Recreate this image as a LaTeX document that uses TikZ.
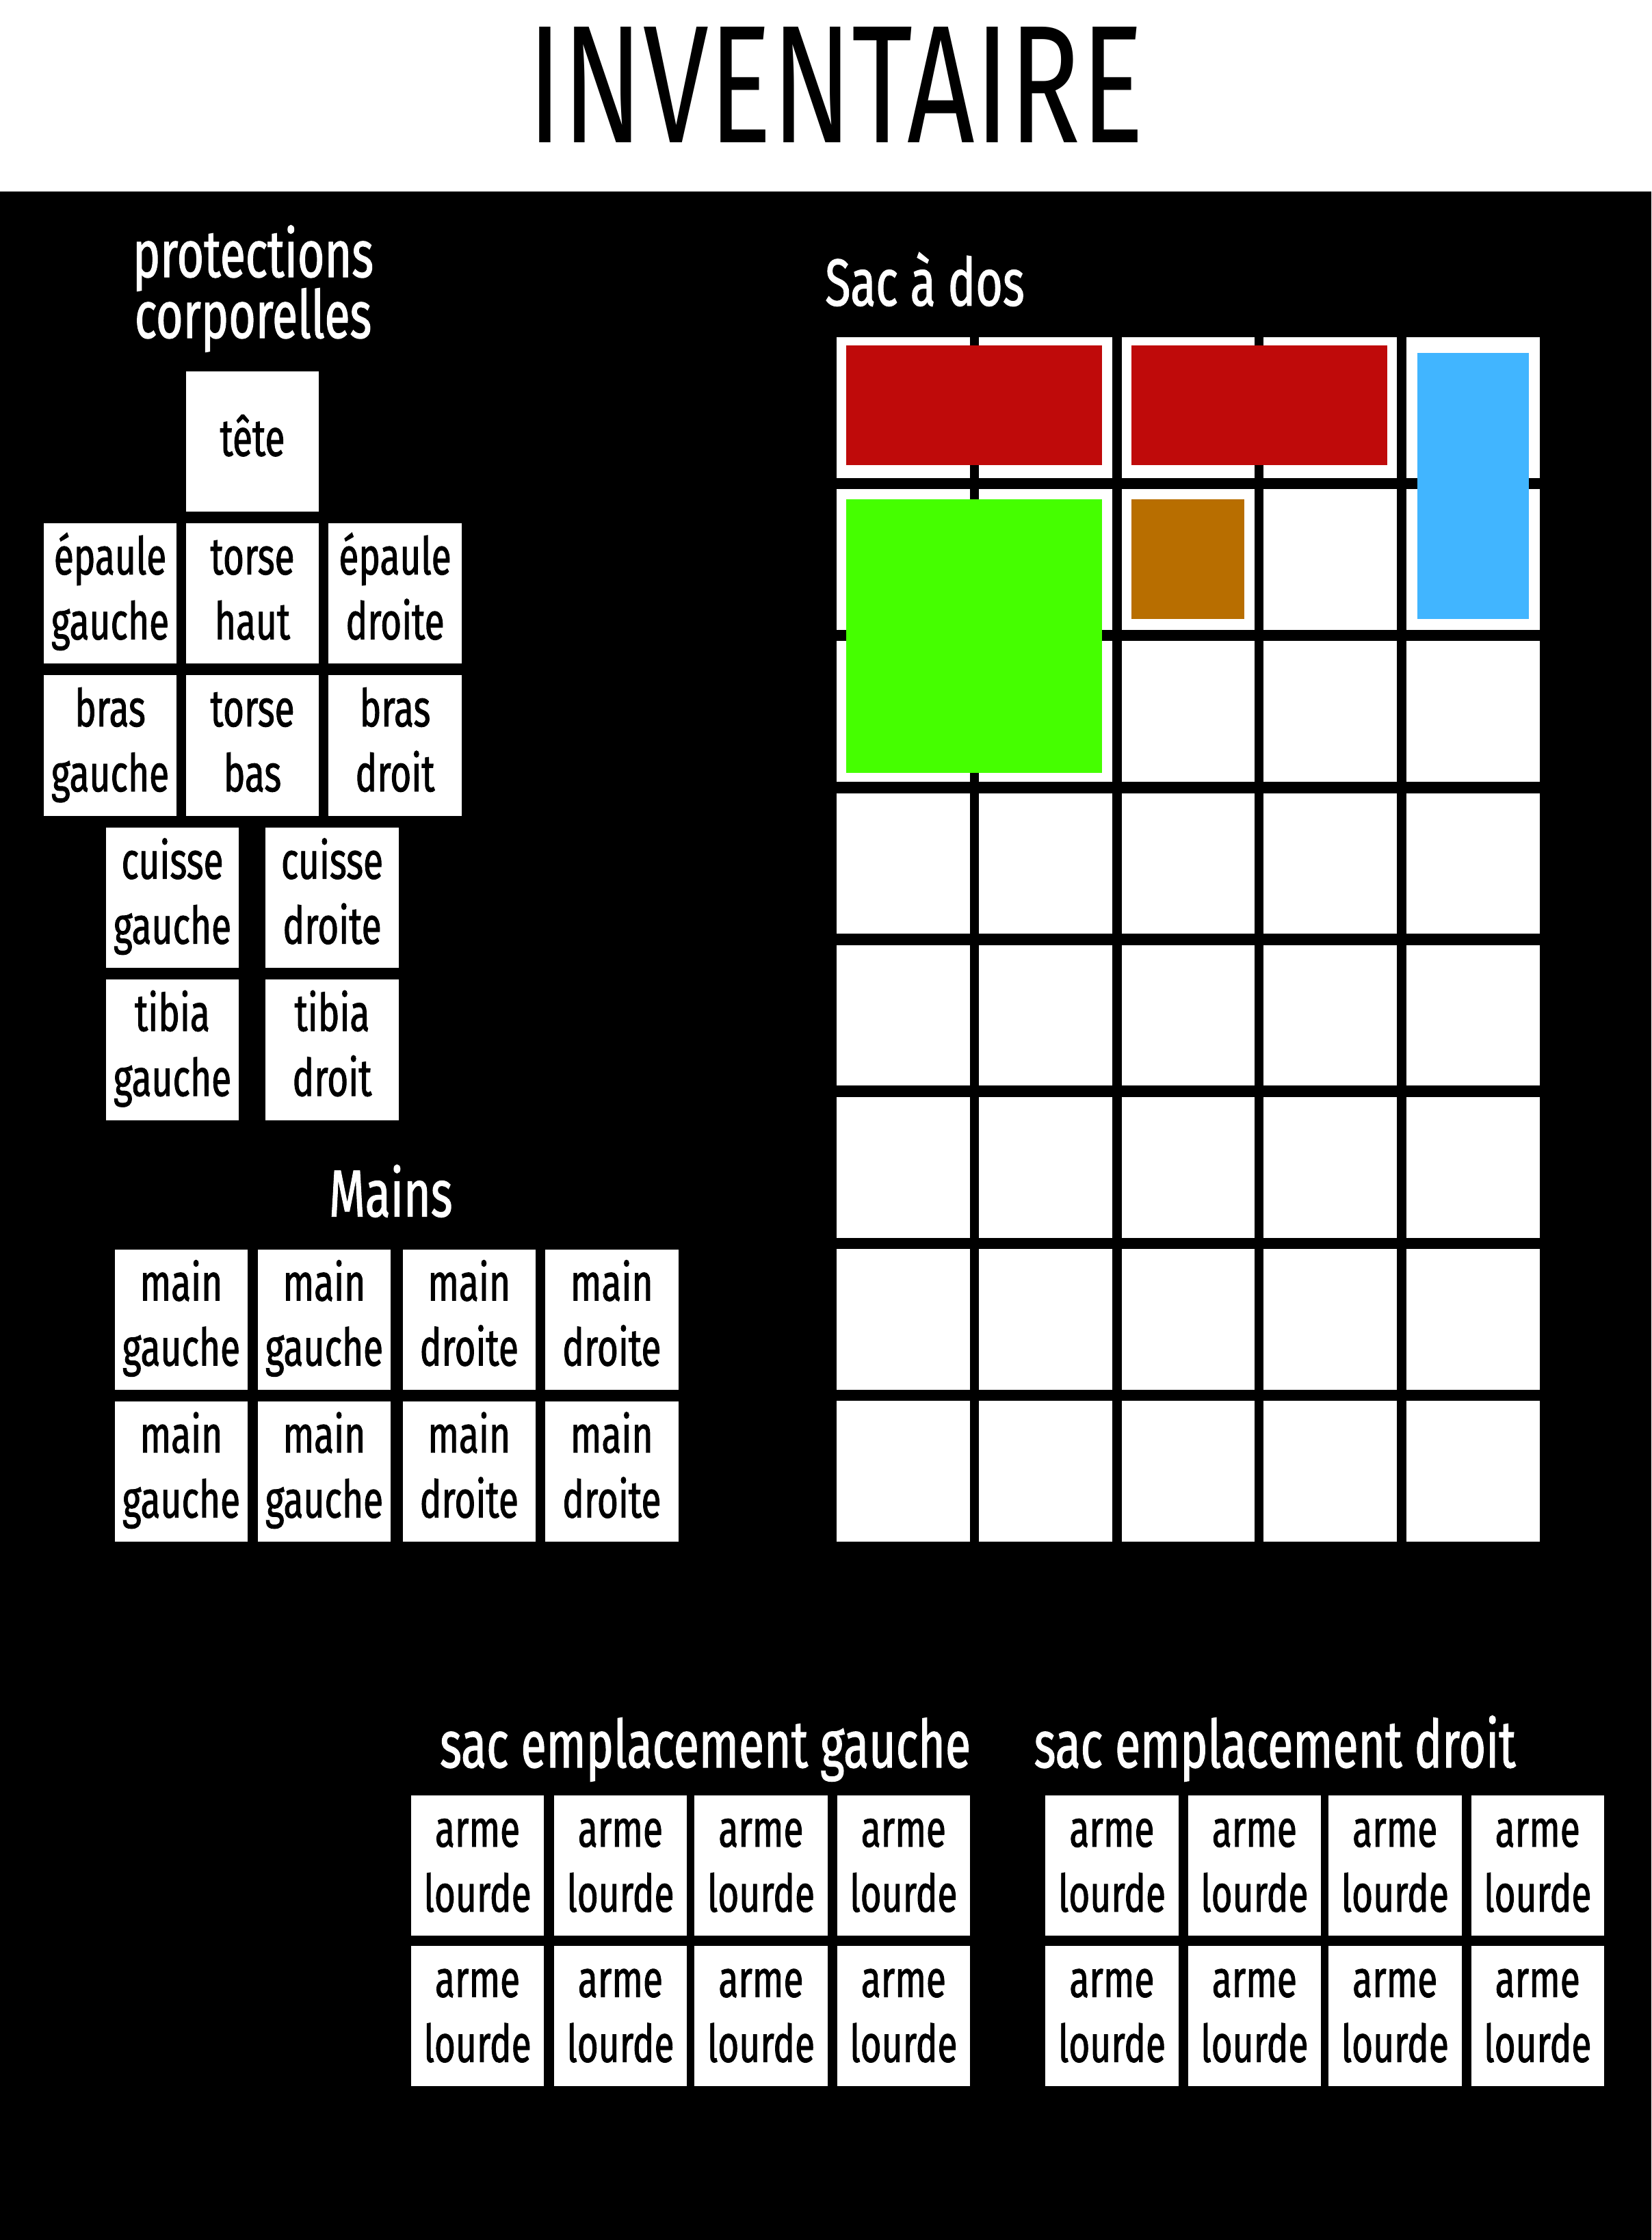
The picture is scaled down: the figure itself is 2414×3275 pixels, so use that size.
\documentclass[tikz,border=0pt]{standalone}
\usepackage{graphicx}
\usepackage{fontspec}
\setmainfont{Fira Sans}[FakeStretch=0.70, FakeBold=1.2]
\newfontfamily\titlefont{Fira Sans}[FakeStretch=0.70]
\definecolor{itemred}{HTML}{BF0A0A}
\definecolor{itemgreen}{HTML}{45FF00}
\definecolor{itemblue}{HTML}{41B5FF}
\definecolor{itembrown}{HTML}{B86E00}
\newcommand\tightlines{\lineskiplimit=-1000pt\relax}
\tikzset{
  slot/.style={fill=white, draw=none, minimum width=194.5pt, minimum height=205.5pt,
    inner sep=0pt, align=center, text=black, font=\fontsize{76}{95}\selectfont\tightlines,
    text height=144.5pt, text depth=10pt},
  slotone/.style={slot, text height=52pt, text depth=10pt},
  heading/.style={text=white, inner sep=0pt, font=\fontsize{97}{89}\selectfont\tightlines},
  item/.style={inner sep=0pt, draw=none},
}
\begin{document}
\begin{tikzpicture}[x=1pt,y=-1pt]
\useasboundingbox (0,0) rectangle (2414,3275);
\fill[white] (0,0) rectangle (2414,280);
\fill[black] (0,280) rectangle (2414,3275);

% title
\node[inner sep=0pt, anchor=base, text=black] (title) at (1222,209)
  {\resizebox{900pt}{169pt}{\titlefont\fontsize{100}{100}\selectfont INVENTAIRE}};

% protections corporelles
\node[heading, align=center, anchor=base] (hprot) at (370,494)
  {protections\\corporelles};
\node[slotone] (tete) at (369,645.5) {tête};
\node[slot] (epg) at (161,867.5) {épaule\\gauche};
\node[slot] (torh) at (369,867.5) {torse\\haut};
\node[slot] (epd) at (577.5,867.5) {épaule\\droite};
\node[slot] (brg) at (161,1089.75) {bras\\gauche};
\node[slot] (torb) at (369,1089.75) {torse\\bas};
\node[slot] (brd) at (577.5,1089.75) {bras\\droit};
\node[slot] (cug) at (252,1312.5) {cuisse\\gauche};
\node[slot] (cud) at (485.5,1312.5) {cuisse\\droite};
\node[slot] (tig) at (252,1535) {tibia\\gauche};
\node[slot] (tid) at (485.5,1535) {tibia\\droit};

% Mains
\node[heading, anchor=base] (hmains) at (571.3,1778.6) {Mains};
\foreach \c/\t [count=\i] in {167.7/gauche,376.7/gauche,588.5/droite,797/droite}
  \foreach \r [count=\j] in {1826.5,2048.7}
    \node[slot] (main-\i-\j) at ({\c+97.25},{\r+102.75}) {main\\\t};

% Sac a dos
\node[heading, anchor=base] (hsac) at (1352,446.7) {Sac à dos};
\foreach \c [count=\i] in {1223,1431,1639.5,1847,2056}
  \foreach \r in {0,...,7}
    \node[slotone] (bp-\i-\r) at ({\c+97.25},{595.75+222.2*\r}) {};
\node[item, fill=itemred, minimum width=374.4pt, minimum height=175pt] (red1) at (1424.2,592.9) {};
\node[item, fill=itemred, minimum width=374.5pt, minimum height=175pt] (red2) at (1840.75,592.9) {};
\node[item, fill=itemblue, minimum width=163pt, minimum height=389.8pt] (blue) at (2153.5,710.5) {};
\node[item, fill=itemgreen, minimum width=374pt, minimum height=400pt] (green) at (1424,930) {};
\node[item, fill=itembrown, minimum width=165.5pt, minimum height=175.4pt] (brown) at (1736.25,817.7) {};

% sac emplacement gauche / droit
\node[heading, anchor=base] (hsg) at (1031,2584) {sac emplacement gauche};
\node[heading, anchor=base] (hsd) at (1863.7,2584) {sac emplacement droit};
\foreach \c [count=\i] in {600.8,809.7,1015.2,1223.6}
  \foreach \r [count=\j] in {2625,2844.7}
    \node[slot] (sg-\i-\j) at ({\c+97.25},{\r+102.65}) {arme\\lourde};
\foreach \c [count=\i] in {1528.2,1736.6,1942,2150.5}
  \foreach \r [count=\j] in {2625,2844.7}
    \node[slot] (sd-\i-\j) at ({\c+97.25},{\r+102.65}) {arme\\lourde};
\end{tikzpicture}
\end{document}
